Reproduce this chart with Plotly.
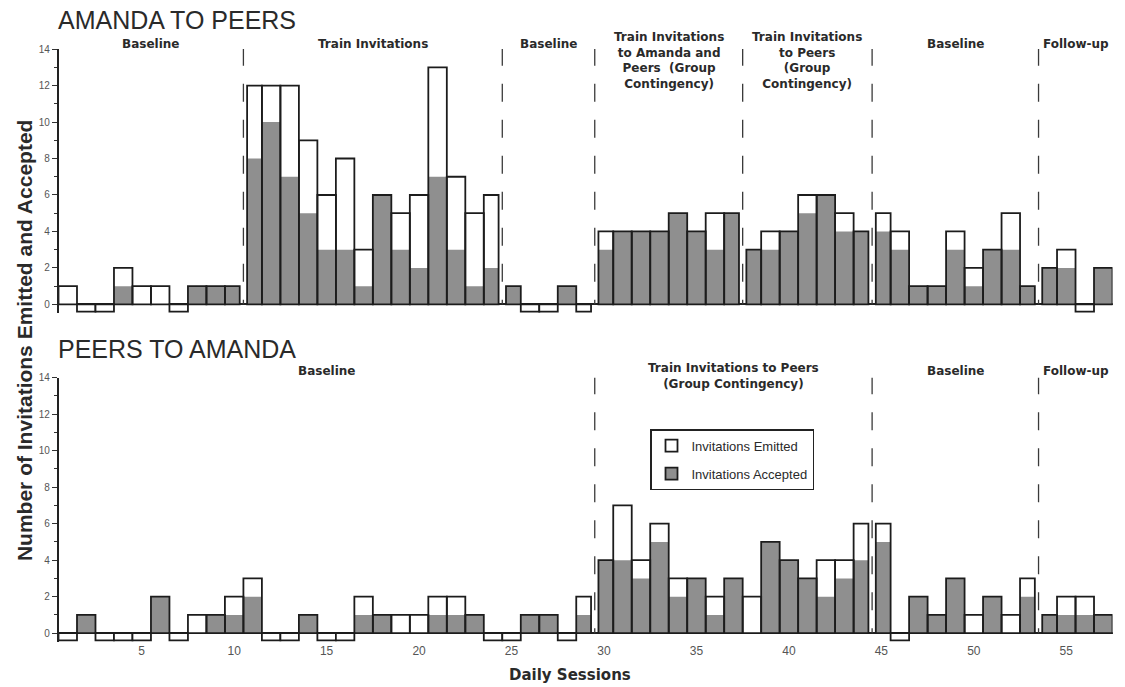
import plotly.graph_objects as go

# ---------------- data ----------------
sessions = list(range(1, 58))

amanda_emitted = [1, 0, 0, 2, 1, 1, 0, 1, 1, 1,
                  12, 12, 12, 9, 6, 8, 3, 6, 5, 6, 13, 7, 5, 6,
                  1, 0, 0, 1, 0,
                  4, 4, 4, 4, 5, 4, 5, 5,
                  3, 4, 4, 6, 6, 5, 4,
                  5, 4, 1, 1, 4, 2, 3, 5, 1,
                  2, 3, 0, 2]
amanda_accepted = [0, 0, 0, 1, 0, 0, 0, 1, 1, 1,
                   8, 10, 7, 5, 3, 3, 1, 6, 3, 2, 7, 3, 1, 2,
                   1, 0, 0, 1, 0,
                   3, 4, 4, 4, 5, 4, 3, 5,
                   3, 3, 4, 5, 6, 4, 4,
                   4, 3, 1, 1, 3, 1, 3, 3, 1,
                   2, 2, 0, 2]

peers_emitted = [0, 1, 0, 0, 0, 2, 0, 1, 1, 2, 3, 0, 0, 1, 0, 0, 2, 1, 1, 1,
                 2, 2, 1, 0, 0, 1, 1, 0, 2,
                 4, 7, 4, 6, 3, 3, 2, 3, 2, 5, 4, 3, 4, 4, 6,
                 6, 0, 2, 1, 3, 1, 2, 1, 3,
                 1, 2, 2, 1]
peers_accepted = [0, 1, 0, 0, 0, 2, 0, 0, 1, 1, 2, 0, 0, 1, 0, 0, 1, 1, 0, 0,
                  1, 1, 1, 0, 0, 1, 1, 0, 1,
                  4, 4, 3, 5, 2, 3, 1, 3, 0, 5, 4, 3, 2, 3, 4,
                  5, 0, 2, 1, 3, 0, 2, 0, 2,
                  1, 1, 1, 1]

amanda_phase_starts = [1, 11, 25, 30, 38, 45, 54]
amanda_phase_labels = ["Baseline", "Train Invitations", "Baseline",
                       "Train Invitations<br>to Amanda and<br>Peers  (Group<br>Contingency)",
                       "Train Invitations<br>to Peers<br>(Group<br>Contingency)",
                       "Baseline", "Follow-up"]
peers_phase_starts = [1, 30, 45, 54]
peers_phase_labels = ["Baseline", "Train Invitations to Peers<br>(Group Contingency)",
                      "Baseline", "Follow-up"]

x_tick_vals = [5, 10, 15, 20, 25, 30, 35, 40, 45, 50, 55]
y_tick_vals = [0, 2, 4, 6, 8, 10, 12, 14]

# ---------------- style ----------------
W, H = 1125, 687
GAP = 0.2          # gap left beside a phase line (in session units)
ZERO_DEPTH = 0.4   # depth of the box drawn for a zero session
OUTLINE = "#1c1c1c"
GRAY = "#8f8f8f"
TEXT = "#2a2a2a"
LINEW = 1.8
FONT = "Liberation Sans, Arial, sans-serif"
BOLDFONT = "DejaVu Sans, Liberation Sans, sans-serif"

x_lo, x_hi = sessions[0] - 0.5, sessions[-1] + 0.5
px_left, px_right = 58.5, 1112.5
top_px = (43.5, 310.2)      # pixel rows for y=14 and y=-0.5, top panel
bot_px = (375.0, 641.9)
y_range = [-0.5, 14]


def py(p):
    return 1 - p / H


def geometry(starts):
    offs, widths = [], []
    for s in sessions:
        left = s in starts and s != sessions[0]
        right = (s + 1) in starts
        offs.append(-0.5 + (GAP if left else 0.0))
        widths.append(1.0 - GAP * left - GAP * right)
    return offs, widths


fig = go.Figure()


def add_panel(emitted, accepted, starts, labels, xa, ya, label_px_single, label_px_top):
    offs, widths = geometry(starts)
    common = dict(x=sessions, offset=offs, width=widths, xaxis=xa, yaxis=ya,
                  showlegend=False, hoverinfo="skip")
    fig.add_trace(go.Bar(y=emitted, marker=dict(color="white", line=dict(width=0)), **common))
    fig.add_trace(go.Bar(y=accepted, marker=dict(color=GRAY, line=dict(width=0)), **common))
    fig.add_trace(go.Bar(y=emitted, marker=dict(color="rgba(0,0,0,0)",
                                                 line=dict(color=OUTLINE, width=LINEW)), **common))
    zi = [i for i, v in enumerate(emitted) if v == 0]
    fig.add_trace(go.Bar(x=[sessions[i] for i in zi], y=[ZERO_DEPTH] * len(zi),
                         base=[-ZERO_DEPTH] * len(zi),
                         offset=[offs[i] for i in zi], width=[widths[i] for i in zi],
                         marker=dict(color="white", line=dict(color=OUTLINE, width=LINEW)),
                         xaxis=xa, yaxis=ya, showlegend=False, hoverinfo="skip"))
    bounds = starts + [sessions[-1] + 1]
    for k, lab in enumerate(labels):
        a, b = bounds[k] - 0.5, bounds[k + 1] - 0.5
        if k > 0:
            fig.add_shape(type="line", xref=xa, yref=ya, x0=a, x1=a, y0=14.08, y1=0,
                          line=dict(color="#3a3a3a", width=1.3, dash="18px,18px"))
        single = "<br>" not in lab
        fig.add_annotation(x=(a + b) / 2, xref=xa, yref="paper",
                           y=py(label_px_single) if single else py(label_px_top),
                           text=lab, showarrow=False,
                           yanchor="middle" if single else "top",
                           font=dict(family=BOLDFONT, size=12, color=TEXT, weight="bold"),
                           align="center")


add_panel(amanda_emitted, amanda_accepted, amanda_phase_starts, amanda_phase_labels,
          "x", "y", 38.0, 22.5)
add_panel(peers_emitted, peers_accepted, peers_phase_starts, peers_phase_labels,
          "x2", "y2", 368.5, 356.5)

# legend entries
fig.add_trace(go.Bar(x=[None], y=[None], name="Invitations Emitted", xaxis="x2", yaxis="y2",
                     marker=dict(color="white", line=dict(color=OUTLINE, width=LINEW)),
                     legendgroup="e"))
fig.add_trace(go.Bar(x=[None], y=[None], name="Invitations Accepted", xaxis="x2", yaxis="y2",
                     marker=dict(color=GRAY, line=dict(color=OUTLINE, width=LINEW)),
                     legendgroup="a"))

xdom = [px_left / W, px_right / W]


def ydom(p):
    return [py(p[1]), py(p[0])]


yaxis_common = dict(range=y_range, tickvals=y_tick_vals, ticks="outside", ticklen=5,
                    tickwidth=1.2, tickcolor="#333", showline=True, linecolor="#222",
                    linewidth=1.5, showgrid=False, zeroline=True, zerolinecolor="#222",
                    zerolinewidth=1.5, tickfont=dict(family=FONT, size=10, color="#555"),
                    minor=dict(dtick=1, ticks="outside", ticklen=3, tickcolor="#333",
                               tickwidth=1.0, showgrid=False),
                    fixedrange=True)
xaxis_common = dict(range=[x_lo, x_hi], showgrid=False, zeroline=False, showline=False,
                    fixedrange=True)

fig.update_layout(
    width=W, height=H,
    margin=dict(l=0, r=0, t=0, b=0),
    paper_bgcolor="white", plot_bgcolor="white",
    barmode="overlay",
    font=dict(family=FONT, color=TEXT),
    xaxis=dict(domain=xdom, anchor="y", showticklabels=False, ticks="", **xaxis_common),
    yaxis=dict(domain=ydom(top_px), anchor="x", **yaxis_common),
    xaxis2=dict(domain=xdom, anchor="y2", tickvals=x_tick_vals, ticks="",
                tickfont=dict(family=FONT, size=12, color="#555"), **xaxis_common),
    yaxis2=dict(domain=ydom(bot_px), anchor="x2", **yaxis_common),
    legend=dict(x=650 / W, y=py(427), xanchor="left", yanchor="top",
                bgcolor="white", bordercolor="#222", borderwidth=1.5,
                font=dict(family="Liberation Sans Narrow, Liberation Sans, Arial", size=13,
                          color=TEXT),
                traceorder="grouped", tracegroupgap=8),
    showlegend=True,
)

fig.add_annotation(x=56 / W, y=py(14.5), xref="paper", yref="paper", xanchor="left",
                   yanchor="middle", text="AMANDA TO PEERS", showarrow=False,
                   font=dict(family=FONT, size=25, color=TEXT))
fig.add_annotation(x=56 / W, y=py(346), xref="paper", yref="paper", xanchor="left",
                   yanchor="middle", text="PEERS TO AMANDA", showarrow=False,
                   font=dict(family=FONT, size=25, color=TEXT))
fig.add_annotation(x=24 / W, y=py(338), xref="paper", yref="paper", textangle=-90,
                   text="Number of Invitations Emitted and Accepted", showarrow=False,
                   xanchor="center", yanchor="middle",
                   font=dict(family=FONT, size=21, color=TEXT, weight="bold"))
fig.add_annotation(x=570 / W, y=py(675), xref="paper", yref="paper",
                   text="Daily Sessions", showarrow=False, xanchor="center", yanchor="middle",
                   font=dict(family=BOLDFONT, size=15, color=TEXT, weight="bold"))

fig.write_html("out.html", config={"displayModeBar": False},
               post_script="document.body.style.margin='0px';")
